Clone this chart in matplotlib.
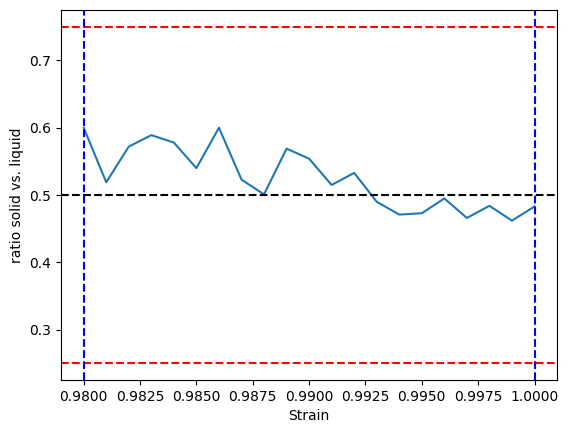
import numpy as np
import matplotlib
matplotlib.use("Agg")
import matplotlib.pyplot as plt

strain = [0.980, 0.981, 0.982, 0.983, 0.984, 0.985, 0.986, 0.987, 0.988, 0.989, 0.990,
          0.991, 0.992, 0.993, 0.994, 0.995, 0.996, 0.997, 0.998, 0.999, 1.000]
ratio = [0.600, 0.519, 0.572, 0.589, 0.578, 0.540, 0.600, 0.523, 0.501, 0.569, 0.554,
         0.515, 0.533, 0.490, 0.471, 0.473, 0.495, 0.466, 0.484, 0.462, 0.483]

fig = plt.figure(figsize=(5.69, 4.33), dpi=100)
ax = fig.add_axes([0.1075, 0.122, 0.8715, 0.855])

ax.plot(strain, ratio)
ax.axhline(0.5, color='black', linestyle='--')
ax.axhline(0.25, color='red', linestyle='--')
ax.axhline(0.75, color='red', linestyle='--')
ax.axvline(0.98, color='blue', linestyle='--')
ax.axvline(1.0, color='blue', linestyle='--')

ax.set_xlabel("Strain")
ax.set_ylabel("ratio solid vs. liquid")

fig.savefig("out.png")
